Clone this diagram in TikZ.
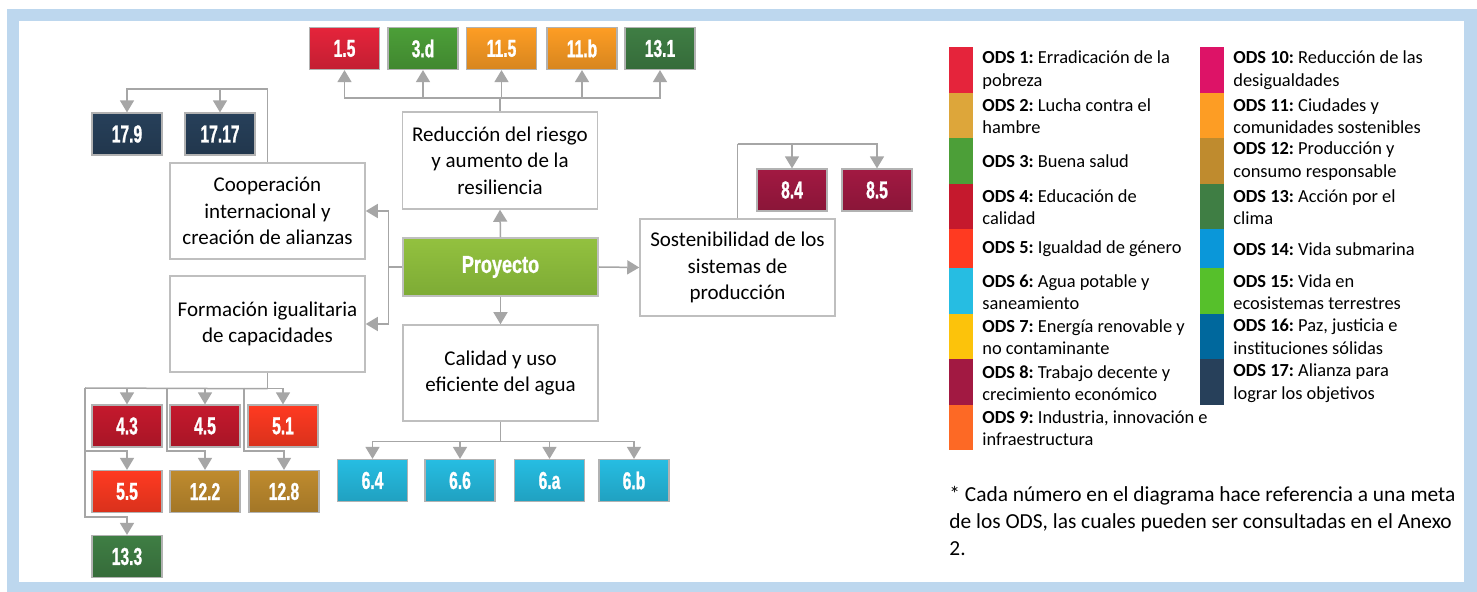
\documentclass[tikz,border=0pt]{standalone}
\usepackage{fontspec}
\setmainfont{Carlito}
\newfontfamily\numfont{Liberation Sans Bold}[FakeStretch=0.64,FakeBold=1]
\newfontfamily\proyfont{Liberation Sans Bold}[FakeStretch=0.74,FakeBold=1]
\usetikzlibrary{arrows.meta}
\definecolor{framecol}{HTML}{BDD7EE}
\definecolor{lncol}{HTML}{A6A6A6}
\definecolor{sdgA}{HTML}{E5243B}
\definecolor{sdgB}{HTML}{DDA63A}
\definecolor{sdgC}{HTML}{4C9F38}
\definecolor{sdgD}{HTML}{C5192D}
\definecolor{sdgE}{HTML}{FF3A21}
\definecolor{sdgF}{HTML}{26BDE2}
\definecolor{sdgG}{HTML}{FCC30B}
\definecolor{sdgH}{HTML}{A21942}
\definecolor{sdgI}{HTML}{FD6925}
\definecolor{sdgJ}{HTML}{DD1367}
\definecolor{sdgK}{HTML}{FD9D24}
\definecolor{sdgL}{HTML}{BF8B2E}
\definecolor{sdgM}{HTML}{3F7E44}
\definecolor{sdgN}{HTML}{0A97D9}
\definecolor{sdgO}{HTML}{56C02B}
\definecolor{sdgP}{HTML}{00689D}
\definecolor{sdgQ}{HTML}{27405A}
\definecolor{proyA}{HTML}{93C13F}
\definecolor{proyB}{HTML}{7DAB35}
\tikzset{
  ln/.style={draw=lncol, line width=0.75pt},
  arr/.style={ln, -{Triangle[width=7pt,length=6pt]}},
  mainbox/.style={draw=black!25, line width=0.75pt, fill=white, minimum width=97.5pt,
    minimum height=48pt, align=center, inner sep=0pt, font=\fontsize{10.5}{13.3}\selectfont},
  tgt/.style={draw=black!30, line width=0.6pt, top color=#1, bottom color=#1!85!black,
    minimum width=35pt, minimum height=21pt, inner sep=0pt, text=white,
    font=\fontsize{12.2}{12}\numfont},
  swatch/.style={fill=#1, draw=none},
  legtext/.style={anchor=west, align=left, inner sep=0pt, font=\fontsize{9.2}{11.3}\selectfont},
}
\begin{document}
\frenchspacing
\begin{tikzpicture}[x=0.5pt,y=-0.5pt]
\useasboundingbox (0,0) rectangle (1477,592);
\fill[framecol] (7,9) rectangle (1477,592);
\fill[white] (19,21) rectangle (1464,582);

% main boxes
\node[mainbox, minimum height=48.5pt] (reduc) at (500,160.5) {Reducción del riesgo\\y aumento de la\\resiliencia};
\node[draw=black!25, line width=0.75pt, top color=proyA, bottom color=proyB, minimum width=97.5pt,
  minimum height=29pt, inner sep=0pt, text=white, font=\fontsize{12.2}{12}\proyfont] (proy) at (500.5,267) {Proyecto};
\node[mainbox] (calid) at (500.5,373) {Calidad y uso\\eficiente del agua};
\node[mainbox, minimum height=48.5pt] (sost) at (737.5,267.5) {Sostenibilidad de los\\sistemas de\\producción};
\node[mainbox] (coop) at (267.5,211) {Cooperación\\internacional y\\creación de alianzas};
\node[mainbox] (form) at (267.5,324) {Formación igualitaria\\de capacidades};

% target boxes
\node[tgt=sdgA] (n15) at (344.5,48.5) {1.5};
\node[tgt=sdgC] (n3d) at (423,48.5) {3.d};
\node[tgt=sdgK] (n115) at (501.5,48.5) {11.5};
\node[tgt=sdgK] (n11b) at (582,48.5) {11.b};
\node[tgt=sdgM] (n131) at (660,48.5) {13.1};
\node[tgt=sdgQ] (n179) at (127,134) {17.9};
\node[tgt=sdgQ] (n1717) at (220,134) {17.17};
\node[tgt=sdgH] (n84) at (792,190) {8.4};
\node[tgt=sdgH] (n85) at (877,190) {8.5};
\node[tgt=sdgD] (n43) at (127,426) {4.3};
\node[tgt=sdgD] (n45) at (205,426) {4.5};
\node[tgt=sdgE] (n51) at (283,426) {5.1};
\node[tgt=sdgE] (n55) at (127,491.5) {5.5};
\node[tgt=sdgL] (n122) at (205,491.5) {12.2};
\node[tgt=sdgL] (n128) at (284,491.5) {12.8};
\node[tgt=sdgM] (n133) at (127,556.5) {13.3};
\node[tgt=sdgF] (n64) at (372.5,480.5) {6.4};
\node[tgt=sdgF] (n66) at (460,480.5) {6.6};
\node[tgt=sdgF] (n6a) at (549.5,480.5) {6.a};
\node[tgt=sdgF] (n6b) at (634,480.5) {6.b};

% connectors: project
\draw[arr] (proy.north) -- (reduc.south);
\draw[arr] (proy.south) -- (calid.north);
\draw[arr] (proy.east) -- (sost.west);
\draw[ln] (proy.west) -- ++(-14,0) coordinate (lj);
\draw[arr] (lj) |- (coop.east);
\draw[arr] (lj) |- (form.east);

% reduccion
\draw[ln] (reduc.north) -- ++(0,-13) coordinate (rt);
\foreach \n in {n15,n3d,n115,n11b,n131} \draw[arr] (rt) -| (\n.south);

% cooperacion
\draw[ln] (coop.north) -- ++(0,-73) coordinate (cj);
\draw[arr] (cj) -| (n179.north);
\draw[arr] (cj) -| (n1717.north);

% sostenibilidad
\draw[ln] (sost.north) -- ++(0,-74) coordinate (sj);
\draw[arr] (sj) -| (n84.north);
\draw[arr] (sj) -| (n85.north);

% calidad
\draw[ln] (calid.south) -- ++(0,20) coordinate (wj);
\foreach \n in {n64,n66,n6a,n6b} \draw[arr] (wj) -| (\n.north);

% formacion
\draw[ln] (form.south) -- ++(0,16) coordinate (fj);
\coordinate (c1) at (85,388);
\coordinate (c2) at (167,388);
\coordinate (c3) at (244,388);
\coordinate (d1) at (85,451);
\coordinate (d2) at (167,451);
\coordinate (d3) at (244,451);
\coordinate (e1) at (85,517);
\draw[ln] (fj) -- (c1);
\draw[arr] (fj) -| (n43.north);
\draw[arr] (fj) -| (n45.north);
\draw[arr] (fj) -| (n51.north);
\draw[arr] (c1) -- (d1) -| (n55.north);
\draw[arr] (d1) -- (e1) -| (n133.north);
\draw[arr] (c2) -- (d2) -| (n122.north);
\draw[arr] (c3) -- (d3) -| (n128.north);

% legend swatches col 1
\fill[swatch=sdgA] (949,47) rectangle (973,93);
\fill[swatch=sdgB] (949,93) rectangle (973,138);
\fill[swatch=sdgC] (949,138) rectangle (973,184);
\fill[swatch=sdgD] (949,184) rectangle (973,229);
\fill[swatch=sdgE] (949,229) rectangle (973,268);
\fill[swatch=sdgF] (949,268) rectangle (973,314);
\fill[swatch=sdgG] (949,314) rectangle (973,359);
\fill[swatch=sdgH] (949,359) rectangle (973,405);
\fill[swatch=sdgI] (949,405) rectangle (973,450);
% col 2
\fill[swatch=sdgJ] (1200,47) rectangle (1224,93);
\fill[swatch=sdgK] (1200,93) rectangle (1224,138);
\fill[swatch=sdgL] (1200,138) rectangle (1224,184);
\fill[swatch=sdgM] (1200,184) rectangle (1224,229);
\fill[swatch=sdgN] (1200,229) rectangle (1224,268);
\fill[swatch=sdgO] (1200,268) rectangle (1224,314);
\fill[swatch=sdgP] (1200,314) rectangle (1224,359);
\fill[swatch=sdgQ] (1200,359) rectangle (1224,405);

% legend texts col 1
\node[legtext] (l1) at (982,70) {\textbf{ODS 1:} Erradicación de la\\pobreza};
\node[legtext] (l2) at (982,116) {\textbf{ODS 2:} Lucha contra el\\hambre};
\node[legtext] (l3) at (982,161) {\textbf{ODS 3:} Buena salud};
\node[legtext] (l4) at (982,207) {\textbf{ODS 4:} Educación de\\calidad};
\node[legtext] (l5) at (982,249) {\textbf{ODS 5:} Igualdad de género};
\node[legtext] (l6) at (982,292) {\textbf{ODS 6:} Agua potable y\\saneamiento};
\node[legtext] (l7) at (982,337) {\textbf{ODS 7:} Energía renovable y\\no contaminante};
\node[legtext] (l8) at (982,383) {\textbf{ODS 8:} Trabajo decente y\\crecimiento económico};
\node[legtext] (l9) at (982,428) {\textbf{ODS 9:} Industria, innovación e\\infraestructura};
% col 2
\node[legtext] (l10) at (1233,70) {\textbf{ODS 10:} Reducción de las\\desigualdades};
\node[legtext] (l11) at (1233,116) {\textbf{ODS 11:} Ciudades y\\comunidades sostenibles};
\node[legtext] (l12) at (1233,161) {\textbf{ODS 12:} Producción y\\consumo responsable};
\node[legtext] (l13) at (1233,207) {\textbf{ODS 13:} Acción por el\\clima};
\node[legtext] (l14) at (1233,249) {\textbf{ODS 14:} Vida submarina};
\node[legtext] (l15) at (1233,292) {\textbf{ODS 15:} Vida en\\ecosistemas terrestres};
\node[legtext] (l16) at (1233,337) {\textbf{ODS 16:} Paz, justicia e\\instituciones sólidas};
\node[legtext] (l17) at (1233,383) {\textbf{ODS 17:} Alianza para\\lograr los objetivos};

% footnote
\node[anchor=west, align=left, inner sep=0pt, font=\fontsize{10.7}{13.5}\selectfont] (fn) at (949,521)
  {* Cada número en el diagrama hace referencia a una meta\\de los ODS, las cuales pueden ser consultadas en el Anexo\\2.};
\end{tikzpicture}
\end{document}
